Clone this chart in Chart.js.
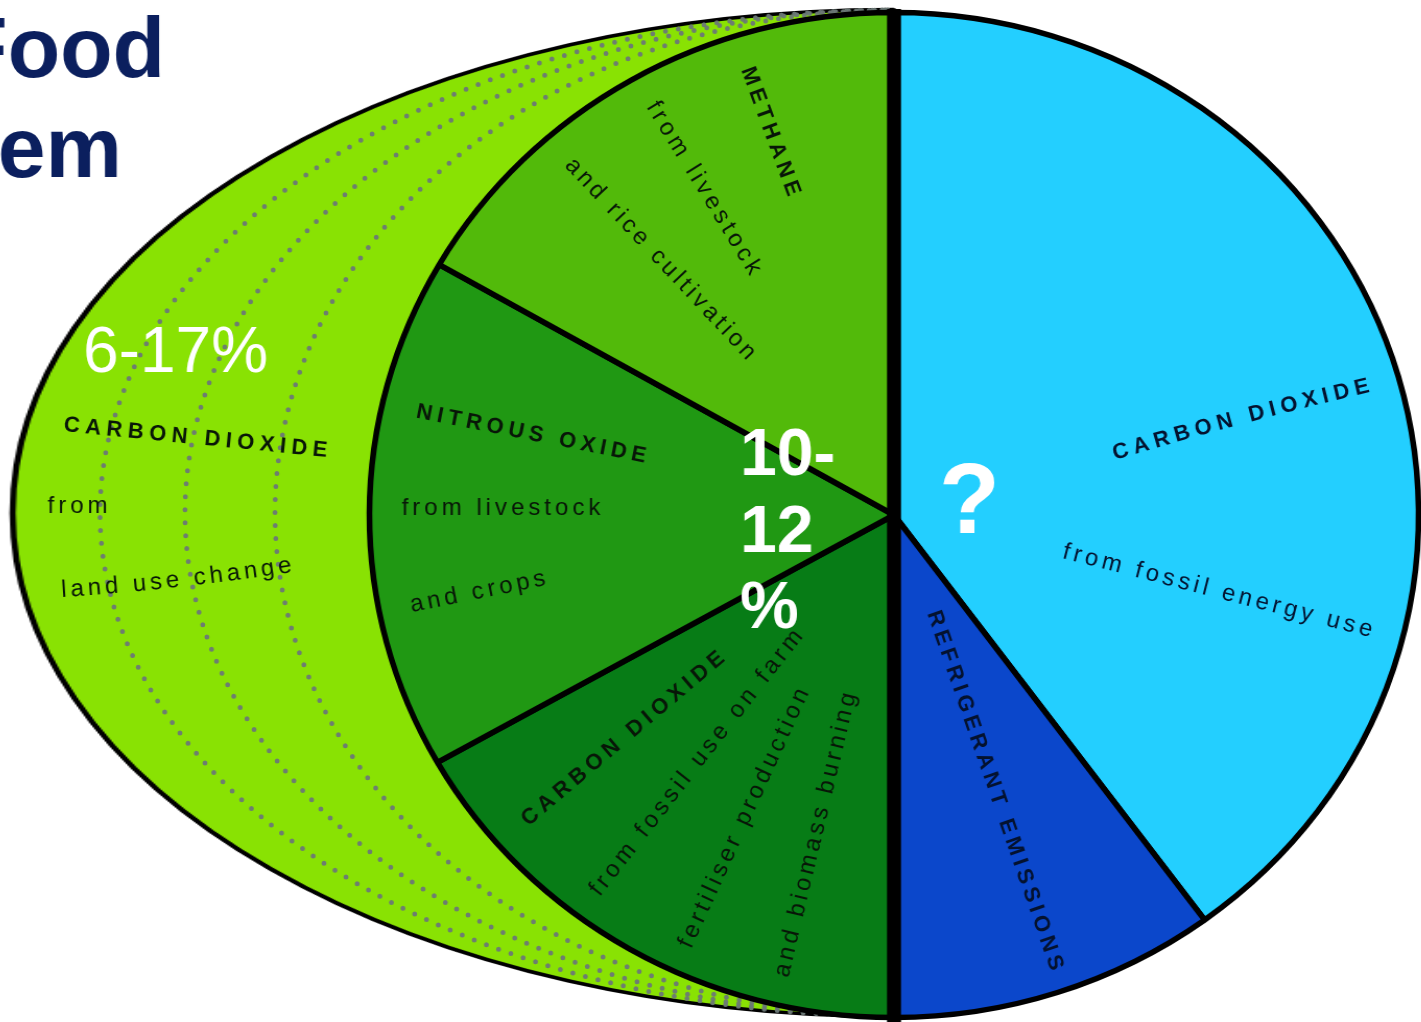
<!DOCTYPE html>
<html><head><meta charset="utf-8">
<script src="https://cdn.jsdelivr.net/npm/chart.js@4.4.1/dist/chart.umd.min.js"></script>
<style>
html,body{margin:0;padding:0;width:1421px;height:1022px;overflow:hidden;background:#fff;}
#bgWrap{position:absolute;left:379px;top:0;width:1030px;height:1022px;transform-origin:515px 0;transform:scaleX(1.7505);}
#mainWrap{position:absolute;left:0;top:0;width:1421px;height:1022px;transform-origin:894px 0;transform:scaleX(1.044);}
canvas{display:block;}
</style></head><body>
<div id="bgWrap"><canvas id="bg" width="1030" height="1022"></canvas></div>
<div id="mainWrap"><canvas id="main" width="1421" height="1022"></canvas></div>
<script>
// ---- data ----
const categories = [
  'Carbon dioxide from fossil energy use',
  'Refrigerant emissions',
  'Carbon dioxide from fossil use on farm, fertiliser production and biomass burning',
  'Nitrous oxide from livestock and crops',
  'Methane from livestock and rice cultivation'
];
const shares = [143.7, 36.3, 60.5, 59.4, 60.1];
const sliceColors = ['#23CFFF', '#0B47CB', '#077C16', '#209813', '#52BA0A'];
const landCategories = ['Carbon dioxide from land use change', ''];
const landShares = [180, 180];
const landColors = ['#89E203', 'rgba(0,0,0,0)'];
const titleLines = ['Food', 'System'];
const rangeLabels = ['6-17%', '10-', '12', '%', '?'];

// ---- helpers ----
const S = 1.044, CX = 894;
const FONT = '"Liberation Sans", Arial, Helvetica, sans-serif';
const BC = 'bold 22px ' + FONT;
const R24 = '24px ' + FONT;
const DARK = '#081608', NAVY = '#04122f';

function toPage(ctx){ ctx.translate(CX,0); ctx.scale(1/S,1); ctx.translate(-CX,0); }

function pathText(ctx, t, p0, p2, font, sp, color, pm){
  ctx.font = font; ctx.fillStyle = color; ctx.textBaseline = 'alphabetic'; ctx.textAlign = 'left';
  const m = pm || [(p0[0]+p2[0])/2, (p0[1]+p2[1])/2];
  const c = [2*m[0]-(p0[0]+p2[0])/2, 2*m[1]-(p0[1]+p2[1])/2];
  const N = 200, pts = [], cum = [0];
  for (let i=0;i<=N;i++){
    const u=i/N, a=(1-u)*(1-u), b=2*u*(1-u), d=u*u;
    pts.push([a*p0[0]+b*c[0]+d*p2[0], a*p0[1]+b*c[1]+d*p2[1]]);
    if (i>0) cum.push(cum[i-1]+Math.hypot(pts[i][0]-pts[i-1][0], pts[i][1]-pts[i-1][1]));
  }
  const L = cum[N];
  const chars = [...t];
  const ws = chars.map(ch => ctx.measureText(ch).width);
  const total = ws.reduce((s,w)=>s+w,0) + sp*(chars.length-1);
  let s = (L-total)/2;
  function at(dist){
    if (dist <= 0){ const ang=Math.atan2(pts[1][1]-pts[0][1], pts[1][0]-pts[0][0]); return [pts[0][0]+dist*Math.cos(ang), pts[0][1]+dist*Math.sin(ang), ang]; }
    if (dist >= L){ const ang=Math.atan2(pts[N][1]-pts[N-1][1], pts[N][0]-pts[N-1][0]); const e=dist-L; return [pts[N][0]+e*Math.cos(ang), pts[N][1]+e*Math.sin(ang), ang]; }
    let i=1; while (cum[i] < dist) i++;
    const f=(dist-cum[i-1])/(cum[i]-cum[i-1]);
    const ang=Math.atan2(pts[i][1]-pts[i-1][1], pts[i][0]-pts[i-1][0]);
    return [pts[i-1][0]+f*(pts[i][0]-pts[i-1][0]), pts[i-1][1]+f*(pts[i][1]-pts[i-1][1]), ang];
  }
  chars.forEach((ch,k)=>{
    const w = ws[k]; const [x,y,ang] = at(s+w/2);
    ctx.save(); ctx.translate(x,y); ctx.rotate(ang); ctx.fillText(ch,-w/2,0); ctx.restore();
    s += w + sp;
  });
}

// ---- background (land use change) half-ellipse ----
new Chart(document.getElementById('bg'), {
  type: 'pie',
  data: { labels: landCategories, datasets: [{
    data: landShares, backgroundColor: landColors,
    borderColor: ['#000', 'rgba(0,0,0,0)'], borderWidth: [3.5, 0]
  }]},
  options: {
    responsive: false, animation: false, events: [],
    rotation: 180, radius: 503.5,
    layout: { padding: { left: 15, right: 15, top: 13, bottom: 9 } },
    plugins: { legend: { display: false }, tooltip: { enabled: false } }
  }
});

// ---- main pie with labels ----
const decor = {
  id: 'decor',
  beforeDatasetsDraw(chart){
    const ctx = chart.ctx; ctx.save(); toPage(ctx);
    ctx.strokeStyle = 'rgba(108,120,118,0.95)'; ctx.lineWidth = 5; ctx.lineCap = 'round';
    ctx.setLineDash([0, 13]);
    [794, 709, 619].forEach(rx => {
      ctx.beginPath(); ctx.ellipse(894, 513, rx, 503, 0, Math.PI/2, Math.PI*1.5); ctx.stroke();
    });
    ctx.restore();
  },
  afterDatasetsDraw(chart){
    const ctx = chart.ctx; ctx.save(); toPage(ctx);
    ctx.fillStyle = '#000'; ctx.fillRect(887, 9, 14, 1013);
    ctx.restore();
  },
  afterDraw(chart){
    const ctx = chart.ctx; ctx.save(); toPage(ctx);
    // title (cropped)
    ctx.font = 'bold 86px ' + FONT; ctx.fillStyle = '#0b1f5e'; ctx.textBaseline = 'alphabetic'; ctx.textAlign = 'left';
    ctx.fillText(titleLines[0], -45, 77);
    ctx.fillText(titleLines[1], -184, 177);
    // ranges
    ctx.fillStyle = '#fff';
    ctx.font = '64px ' + FONT; ctx.fillText(rangeLabels[0], 83, 372);
    ctx.font = 'bold 66px ' + FONT;
    ctx.fillText(rangeLabels[1], 740, 475);
    ctx.fillText(rangeLabels[2], 740, 552);
    ctx.fillText(rangeLabels[3], 740, 628);
    ctx.font = 'bold 100px ' + FONT; ctx.fillText(rangeLabels[4], 939, 533);
    // slice labels
    const L = [
      ['CARBON DIOXIDE', [63,431], [327,457], BC, 5.5, DARK],
      ['from', [47,513], [108,513], R24, 4, DARK],
      ['land use change', [62,597], [292,572], R24, 4, DARK, [177,587]],
      ['NITROUS OXIDE', [413,417], [647,463], BC, 5, DARK],
      ['from livestock', [400,515], [602,515], R24, 4, DARK],
      ['and crops', [412,612], [546,585], R24, 4, DARK],
      ['METHANE', [741,70], [788,197], BC, 4.5, DARK],
      ['from livestock', [648,110], [748,273], R24, 4, DARK],
      ['and rice cultivation', [565,167], [746,360], R24, 3.6, DARK],
      ['CARBON DIOXIDE', [527,828], [727,659], BC, 5, DARK],
      ['from fossil use on farm', [603,893], [800,641], R24, 4, DARK],
      ['fertiliser production', [693,945], [807,697], R24, 4, DARK],
      ['and biomass burning', [789,975], [855,698], R24, 3.8, DARK],
      ['REFRIGERANT EMISSIONS', [927,613], [1051,972], BC, 4.6, NAVY],
      ['CARBON DIOXIDE', [1115,460], [1370,392], BC, 5.5, NAVY, [1242,424]],
      ['from fossil energy use', [1062,558], [1370,637], R24, 4, NAVY]
    ];
    L.forEach(l => pathText(ctx, l[0], l[1], l[2], l[3], l[4], l[5], l[6]));
    ctx.restore();
  }
};

new Chart(document.getElementById('main'), {
  type: 'pie',
  data: { labels: categories, datasets: [{
    data: shares, backgroundColor: sliceColors, borderColor: '#000', borderWidth: 5.5
  }]},
  options: {
    responsive: false, animation: false, events: [],
    radius: 502.5,
    layout: { padding: { left: 394, right: 27, top: 15, bottom: 7 } },
    plugins: { legend: { display: false }, tooltip: { enabled: false } }
  },
  plugins: [decor]
});
</script>
</body></html>
